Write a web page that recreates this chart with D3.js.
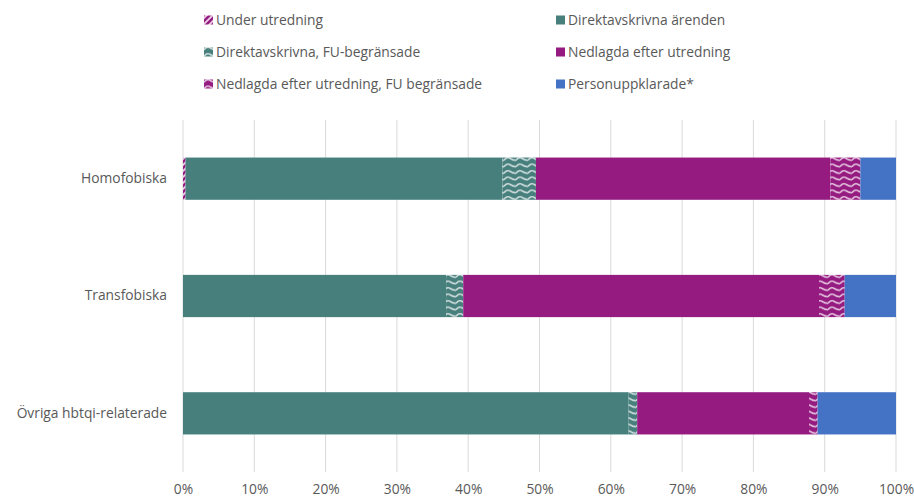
<!DOCTYPE html>
<html><head><meta charset="utf-8">
<script src="https://cdn.jsdelivr.net/npm/d3@7"></script>
<style>body{margin:0;background:#fff}svg{display:block;font-family:"Open Sans",sans-serif}</style>
</head><body><svg id="c" width="914" height="499"></svg>
<script>
const categories = ["Homofobiska", "Transfobiska", "Övriga hbtqi-relaterade"];
const seriesNames = ["Under utredning", "Direktavskrivna ärenden", "Direktavskrivna, FU-begränsade", "Nedlagda efter utredning", "Nedlagda efter utredning, FU begränsade", "Personuppklarade*"];
const underUtredning = [0.35, 0, 0];
const direktavskrivna = [44.45, 36.9, 62.5];
const direktFU = [4.7, 2.4, 1.2];
const nedlagda = [41.3, 49.9, 24.1];
const nedlagdaFU = [4.2, 3.6, 1.2];
const personuppklarade = [5.0, 7.2, 11.0];
const xTicks = [0, 10, 20, 30, 40, 50, 60, 70, 80, 90, 100];

const seriesValues = [underUtredning, direktavskrivna, direktFU, nedlagda, nedlagdaFU, personuppklarade];
const teal = "#477f7d", mag = "#951b81", blue = "#4472c4";
const fills = ["url(#stripe)", teal, "url(#waveT)", mag, "url(#waveM)", blue];
const FS = "13.8px";

const svg = d3.select("#c");
const defs = svg.append("defs");
const sp = defs.append("pattern").attr("id","stripe").attr("patternUnits","userSpaceOnUse").attr("width",6).attr("height",6);
sp.append("rect").attr("width",6).attr("height",6).attr("fill",mag);
sp.append("path").attr("d","M-1,7 L7,-1 M-4,4 L4,-4 M2,10 L10,2").attr("stroke","#fff").attr("stroke-opacity",0.8).attr("stroke-width",1.8);
function wave(id, col){
  const p = defs.append("pattern").attr("id",id).attr("patternUnits","userSpaceOnUse").attr("width",12).attr("height",6.5);
  p.append("rect").attr("width",12).attr("height",6.5).attr("fill",col);
  p.append("path").attr("d","M0,4.3 Q3,0.3 6,2.3 T12,4.3").attr("fill","none").attr("stroke","#fff").attr("stroke-opacity",0.75).attr("stroke-width",1.5);
}
wave("waveT", teal); wave("waveM", mag);

const x = d3.scaleLinear().domain([0,100]).range([183,896]);
const y = d3.scaleBand().domain(categories).range([120,472]).paddingInner(0.64).paddingOuter(0.32);

svg.append("g").selectAll("line").data(xTicks).join("line")
  .attr("x1",d=>x(d)).attr("x2",d=>x(d)).attr("y1",120).attr("y2",472)
  .attr("stroke","#d9d9d9").attr("stroke-width",1);

const xa = svg.append("g").attr("transform","translate(0,472)")
  .call(d3.axisBottom(x).tickValues(xTicks).tickFormat(d=>d+"%").tickSize(0));
xa.select(".domain").remove();
xa.selectAll("text").attr("y",22).attr("dy",0).attr("fill","#595959").style("font-size",FS).style("font-family","'Open Sans',sans-serif");

const ya = svg.append("g").attr("transform","translate(183,0)")
  .call(d3.axisLeft(y).tickSize(0).tickPadding(16));
ya.select(".domain").remove();
ya.selectAll("text").attr("fill","#595959").style("font-size",FS).style("font-family","'Open Sans',sans-serif");

const rows = categories.map((c,i)=>{const o={cat:c}; seriesNames.forEach((s,j)=>o[s]=seriesValues[j][i]); return o;});
const stack = d3.stack().keys(seriesNames)(rows);
svg.append("g").selectAll("g").data(stack).join("g").attr("fill",(d,i)=>fills[i])
  .selectAll("rect").data(d=>d).join("rect")
  .attr("x",d=>x(d[0])).attr("width",d=>Math.max(0,x(d[1])-x(d[0])))
  .attr("y",d=>y(d.data.cat)).attr("height",y.bandwidth());

const legendPos = [[204,20],[556,20],[204,52],[556,52],[204,84],[556,84]];
const lg = svg.append("g");
seriesNames.forEach((name,k)=>{
  const [lx,ly] = legendPos[k];
  lg.append("rect").attr("x",lx).attr("y",ly-4.5).attr("width",9).attr("height",9).attr("fill",fills[k]);
  lg.append("text").attr("x",lx+12).attr("y",ly).attr("dy","0.35em").attr("fill","#595959")
    .style("font-size",FS).text(name);
});
</script></body></html>
